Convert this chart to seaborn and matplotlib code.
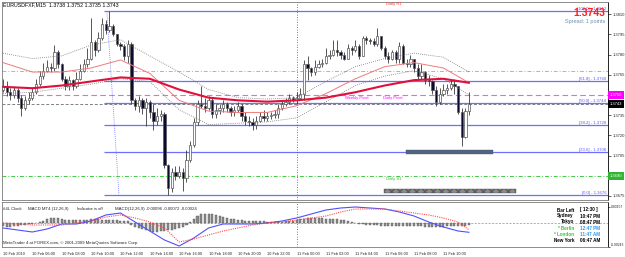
import numpy as np
import seaborn as sns
import matplotlib
matplotlib.use("Agg")
import matplotlib.pyplot as plt
import matplotlib.transforms as mtrans
from matplotlib.patches import Rectangle

# EURUSDFXF M15, 10 Feb 2010 04:00 -> 11 Feb 2010 11:45
opens = [1.3754, 1.3757, 1.3752, 1.3750, 1.3754, 1.3748, 1.3740, 1.3746, 1.3748, 1.3752,
         1.3758, 1.3764, 1.3768, 1.3771, 1.3770, 1.3782, 1.3773, 1.3762, 1.3757, 1.3761,
         1.3757, 1.3762, 1.3768, 1.3773, 1.3777, 1.3789, 1.3783, 1.3792, 1.3803, 1.3798,
         1.3801, 1.3795, 1.3788, 1.3786, 1.3779, 1.3788, 1.3746, 1.3742, 1.3746, 1.3740,
         1.3745, 1.3737, 1.3731, 1.3734, 1.3736, 1.3698, 1.3681, 1.3693, 1.3690, 1.3693,
         1.3688, 1.3702, 1.3713, 1.3730, 1.3743, 1.3742, 1.3740, 1.3746, 1.3736, 1.3739,
         1.3740, 1.3743, 1.3740, 1.3737, 1.3739, 1.3742, 1.3734, 1.3731, 1.3730, 1.3728,
         1.3731, 1.3734, 1.3733, 1.3734, 1.3735, 1.3736, 1.3740, 1.3743, 1.3745, 1.3748,
         1.3746, 1.3748, 1.3751, 1.3773, 1.3770, 1.3767, 1.3771, 1.3773, 1.3774, 1.3779,
         1.3780, 1.3783, 1.3782, 1.3780, 1.3777, 1.3785, 1.3783, 1.3786, 1.3779, 1.3792,
         1.3791, 1.3790, 1.3788, 1.3794, 1.3785, 1.3779, 1.3777, 1.3782, 1.3777, 1.3786,
         1.3774, 1.3773, 1.3777, 1.3770, 1.3764, 1.3767, 1.3761, 1.3760, 1.3754, 1.3745,
         1.3751, 1.3754, 1.3755, 1.3758, 1.3757, 1.3737, 1.3719, 1.3738]
highs = [1.3762, 1.3760, 1.3755, 1.3757, 1.3755, 1.3750, 1.3749, 1.3752, 1.3755, 1.3762,
         1.3768, 1.3774, 1.3776, 1.3774, 1.3787, 1.3783, 1.3774, 1.3764, 1.3764, 1.3762,
         1.3767, 1.3773, 1.3777, 1.3785, 1.3807, 1.3791, 1.3797, 1.3807, 1.3806, 1.3812,
         1.3803, 1.3795, 1.3789, 1.3788, 1.3791, 1.3789, 1.3748, 1.3749, 1.3748, 1.3748,
         1.3746, 1.3743, 1.3740, 1.3739, 1.3737, 1.3699, 1.3696, 1.3697, 1.3697, 1.3696,
         1.3709, 1.3716, 1.3733, 1.3746, 1.3757, 1.3748, 1.3749, 1.3748, 1.3743, 1.3743,
         1.3746, 1.3745, 1.3742, 1.3742, 1.3745, 1.3743, 1.3737, 1.3734, 1.3733, 1.3734,
         1.3737, 1.3739, 1.3737, 1.3737, 1.3739, 1.3743, 1.3746, 1.3748, 1.3751, 1.3749,
         1.3752, 1.3755, 1.3776, 1.3779, 1.3771, 1.3776, 1.3776, 1.3777, 1.3785, 1.3783,
         1.3791, 1.3791, 1.3783, 1.3782, 1.3788, 1.3786, 1.3791, 1.3788, 1.3794, 1.3794,
         1.3792, 1.3792, 1.3800, 1.3794, 1.3786, 1.3782, 1.3783, 1.3783, 1.3789, 1.3788,
         1.3777, 1.3780, 1.3777, 1.3773, 1.3773, 1.3768, 1.3765, 1.3761, 1.3757, 1.3755,
         1.3758, 1.3758, 1.3761, 1.3762, 1.3757, 1.3740, 1.3740, 1.3752]
lows = [1.3752, 1.3749, 1.3746, 1.3748, 1.3745, 1.3734, 1.3739, 1.3743, 1.3746, 1.3751,
        1.3757, 1.3762, 1.3767, 1.3767, 1.3768, 1.3770, 1.3760, 1.3754, 1.3754, 1.3754,
        1.3755, 1.3761, 1.3767, 1.3771, 1.3776, 1.3779, 1.3782, 1.3791, 1.3795, 1.3797,
        1.3794, 1.3786, 1.3783, 1.3776, 1.3774, 1.3743, 1.3739, 1.3737, 1.3736, 1.3727,
        1.3733, 1.3724, 1.3728, 1.3731, 1.3696, 1.3676, 1.3678, 1.3687, 1.3688, 1.3679,
        1.3685, 1.3700, 1.3711, 1.3728, 1.3740, 1.3737, 1.3739, 1.3733, 1.3733, 1.3736,
        1.3737, 1.3737, 1.3734, 1.3734, 1.3737, 1.3731, 1.3728, 1.3727, 1.3724, 1.3725,
        1.3730, 1.3731, 1.3731, 1.3732, 1.3733, 1.3733, 1.3739, 1.3742, 1.3743, 1.3745,
        1.3743, 1.3746, 1.3746, 1.3761, 1.3764, 1.3765, 1.3770, 1.3771, 1.3773, 1.3777,
        1.3779, 1.3779, 1.3777, 1.3776, 1.3777, 1.3780, 1.3782, 1.3777, 1.3779, 1.3788,
        1.3788, 1.3786, 1.3786, 1.3783, 1.3777, 1.3774, 1.3776, 1.3774, 1.3774, 1.3773,
        1.3771, 1.3771, 1.3767, 1.3761, 1.3762, 1.3758, 1.3757, 1.3751, 1.3742, 1.3743,
        1.3749, 1.3751, 1.3754, 1.3751, 1.3736, 1.3712, 1.3718, 1.3735]
closes = [1.3757, 1.3752, 1.3750, 1.3754, 1.3748, 1.3740, 1.3746, 1.3748, 1.3752, 1.3758,
          1.3764, 1.3768, 1.3771, 1.3770, 1.3782, 1.3773, 1.3762, 1.3757, 1.3761, 1.3757,
          1.3762, 1.3768, 1.3773, 1.3777, 1.3789, 1.3783, 1.3792, 1.3803, 1.3798, 1.3801,
          1.3795, 1.3788, 1.3786, 1.3779, 1.3788, 1.3746, 1.3742, 1.3746, 1.3740, 1.3745,
          1.3737, 1.3731, 1.3734, 1.3736, 1.3698, 1.3681, 1.3693, 1.3690, 1.3693, 1.3688,
          1.3702, 1.3713, 1.3730, 1.3743, 1.3742, 1.3740, 1.3746, 1.3736, 1.3739, 1.3740,
          1.3743, 1.3740, 1.3737, 1.3739, 1.3742, 1.3734, 1.3731, 1.3730, 1.3728, 1.3731,
          1.3734, 1.3733, 1.3734, 1.3735, 1.3736, 1.3740, 1.3743, 1.3745, 1.3748, 1.3746,
          1.3748, 1.3751, 1.3773, 1.3770, 1.3767, 1.3771, 1.3773, 1.3774, 1.3779, 1.3780,
          1.3783, 1.3782, 1.3780, 1.3777, 1.3785, 1.3783, 1.3786, 1.3779, 1.3792, 1.3791,
          1.3790, 1.3788, 1.3794, 1.3785, 1.3779, 1.3777, 1.3782, 1.3777, 1.3786, 1.3774,
          1.3773, 1.3777, 1.3770, 1.3764, 1.3767, 1.3761, 1.3760, 1.3754, 1.3745, 1.3751,
          1.3754, 1.3755, 1.3758, 1.3757, 1.3737, 1.3719, 1.3738, 1.3743]

# moving averages / envelopes sampled every 2 hours
ma_bars = [0, 8, 16, 24, 32, 40, 48, 56, 64, 72, 80, 88, 96, 104, 112, 120, 127]
ma_slow = [1.3756, 1.3755, 1.3757, 1.3760, 1.3763, 1.3762, 1.3754, 1.3748, 1.3746,
           1.3745, 1.3746, 1.3748, 1.3752, 1.3757, 1.3761, 1.3762, 1.3759]
ma_mid = [1.3774, 1.3767, 1.3767, 1.3770, 1.3776, 1.3766, 1.3746, 1.3738, 1.3737,
          1.3737, 1.3742, 1.3751, 1.3762, 1.3771, 1.3774, 1.3770, 1.3759]
env_upper = [1.3781, 1.3777, 1.3779, 1.3787, 1.3791, 1.3779, 1.3767, 1.3754, 1.3748,
             1.3747, 1.3748, 1.3760, 1.3771, 1.3777, 1.3781, 1.3778, 1.3767]
env_lower = [1.3751, 1.3752, 1.3755, 1.3758, 1.3762, 1.3760, 1.3739, 1.3728, 1.3729,
             1.3730, 1.3733, 1.3745, 1.3757, 1.3764, 1.3768, 1.3762, 1.3750]

# MACD(12,26,9) lines sampled every hour
macd_bars = [0, 4, 8, 12, 16, 20, 24, 28, 32, 36, 40, 44, 48, 52, 56, 60, 64,
             68, 72, 76, 80, 84, 88, 92, 96, 100, 104, 108, 112, 116, 120, 124, 127]
macd_main = [-0.00053, -0.00073, -0.00093, -0.00063, -0.00013, -0.00013, 0.00017, 0.00077,
             0.00097, 0.00007, -0.00083, -0.00173, -0.00233, -0.00153, -0.00053, -0.00013,
             -0.00013, -0.00013, -0.00003, 0.00017, 0.00047, 0.00087, 0.00127, 0.00147,
             0.00157, 0.00147, 0.00137, 0.00107, 0.00067, 0.00007, -0.00043, -0.00083, -0.00096]
macd_signal = [-0.00003, -0.00013, -0.00023, -0.00023, -0.00023, -0.00003, 0.00017, 0.00057,
               0.00077, 0.00047, 0.00007, -0.00053, -0.00193, -0.00163, -0.00123, -0.00083,
               -0.00053, -0.00023, -0.00003, 0.00007, 0.00027, 0.00047, 0.00067, 0.00107,
               0.00137, 0.00137, 0.00137, 0.00117, 0.00097, 0.00077, 0.00047, 0.00007, -0.00072]
macd_hist = [-35, -38, -40, -36, -30, -25, -20, -15, -10, -5, 5,
             20, 35, 45, 50, 45,
             35, 30, 25, 25, 28, 30, 32, 30,
             35, 38, 35, 32, 30, 30, 28, 25, 22, 20, 15,
             -20, -40, -55, -65, -75, -85, -90, -90, -85, -80, -75, -70, -60, -50, -40,
             -20, 10,
             40, 65, 85, 90, 90, 85, 80, 70, 60, 50, 40,
             35, 30, 25, 20, 20, 18, 15, 15, 15, 12, 12, 10, 10, 12, 15, 18,
             22, 28, 35, 42, 48, 50, 50, 48, 45, 42, 40, 38, 35, 30, 25, 18,
             10, 0, -10, -15, -18, -20, -22, -25, -28, -30, -30, -30, -30, -32, -32, -33, -34, -35, -35,
             -36, -38, -40, -40, -40, -40, -38, -36, -35, -35, -34, -30, -28, -24]
macd_hist = [v * 1e-5 for v in macd_hist]

price_ticks = [1.3810, 1.3795, 1.3780, 1.3765, 1.3750, 1.3735, 1.3720, 1.3705, 1.3690, 1.3675]
macd_ticks = [0.00157, -0.00243]
date_bars = [0, 8, 16, 24, 32, 40, 48, 56, 64, 72, 80, 88, 96, 104, 112, 120]
date_labels = ["10 Feb 2010", "10 Feb 06:00", "10 Feb 08:00", "10 Feb 10:00", "10 Feb 12:00",
               "10 Feb 14:00", "10 Feb 16:00", "10 Feb 18:00", "10 Feb 20:00", "10 Feb 22:00",
               "11 Feb 00:00", "11 Feb 02:00", "11 Feb 04:00", "11 Feb 06:00", "11 Feb 08:00",
               "11 Feb 10:00"]

fib_names = ["100.0", "61.8", "50.0", "38.2", "23.6", "0.0"]
fib_prices = [1.3812, 1.3760, 1.3744, 1.3728, 1.3708, 1.3676]
fib_start_bar = 27.5
fib_anchor_bars = [28.3, 31.6]
fib_anchor_prices = [1.3812, 1.3676]

pivot = 1.3750
daily_s1 = 1.3690
daily_r1 = 1.3820
orange_level = 1.3768
bid = 1.3743
day_split = 80

zone_bars = [(109.8, 133.5), (103.8, 139.8)]
zone_prices = [(1.3706, 1.3709), (1.3677, 1.3680)]

clock_names = ["Bar Left", "Sydney", "Tokyo", "* Berlin", "* London", "New York"]
clock_times = ["[ 12:30 ]", "10:47 PM", "08:47 PM", "12:47 PM", "11:47 AM", "06:47 AM"]
name_colors = ["black", "black", "black", "#33cc33", "#33cc33", "black"]
time_colors = ["black", "black", "black", "#3399ee", "#3399ee", "black"]

sns.set_style("white")
plt.rcParams['font.family'] = ['Liberation Sans', 'DejaVu Sans']

W, H = 625, 257
fig = plt.figure(figsize=(W / 100, H / 100), dpi=100)


def rect(l, t, r, b):
    return [l / W, 1 - b / H, (r - l) / W, (b - t) / H]


def ftext(x, y, s, **kw):
    return fig.text(x / W, 1 - y / H, s, va='center', **kw)


ax = fig.add_axes(rect(2, 2, 608, 200))
axm = fig.add_axes(rect(2, 202, 608, 247))
xlim = (-0.27, 164.85)

# ---- price panel
o, h, l, c = map(np.array, (opens, highs, lows, closes))
bar = np.arange(len(c))
up = c >= o
ax.vlines(bar, l, h, color='#3a3a3a', lw=0.6, zorder=3)
ax.bar(bar, np.maximum(np.abs(c - o), 0.00003), bottom=np.minimum(o, c), width=0.62,
       color=['white' if u else '#0b0b30' for u in up], edgecolor='#555555', lw=0.5, zorder=4)

ax.axhline(orange_level, color='#f2a070', lw=0.7, ls=(0, (4, 2, 1, 2)), zorder=2)
ax.axhline(pivot, color='#ff55ff', lw=0.8, ls=(0, (5, 3)), zorder=2)
ax.axhline(bid, color='#808080', lw=0.7, ls=(0, (3, 2)), zorder=2)
ax.axhline(daily_s1, color='#44cc44', lw=0.7, ls=(0, (4, 2, 1, 2)), zorder=2)
ax.hlines(fib_prices, fib_start_bar, xlim[1], color='#6e6eff', lw=0.9, zorder=2)
ax.plot(fib_anchor_bars, fib_anchor_prices, color='#6e6eff', lw=0.6, ls=(0, (1, 1.5)), zorder=2)
ax.axvline(day_split, color='#505050', lw=0.6, ls=(0, (1, 2)), zorder=2)

for (b0, b1), (p0, p1), fc, hatch in zip(zone_bars, zone_prices, ['#4f6384', '#8a8a8a'], [None, 'xxxx']):
    ax.add_patch(Rectangle((b0, p0), b1 - b0, p1 - p0, facecolor=fc, edgecolor='#5a5a5a',
                           hatch=hatch, lw=0.3, zorder=3))

sns.lineplot(x=ma_bars, y=env_upper, ax=ax, color='#777777', lw=0.6, linestyle=(0, (1, 1.5)), zorder=5)
sns.lineplot(x=ma_bars, y=env_lower, ax=ax, color='#777777', lw=0.6, linestyle=(0, (1, 1.5)), zorder=5)
sns.lineplot(x=ma_bars, y=ma_mid, ax=ax, color='#f07a7a', lw=0.7, zorder=5)
sns.lineplot(x=ma_bars, y=ma_slow, ax=ax, color='#e0103a', lw=1.5, zorder=5)

ax.set_xlim(*xlim)
ax.set_ylim(1.3672, 1.3819)
ax.set_xlabel('')
ax.set_ylabel('')
ax.set_xticks([])
ax.yaxis.tick_right()
ax.set_yticks(price_ticks)
# the boxed levels cover their own tick label
ax.set_yticklabels(['' if p in (pivot, daily_s1) else f'{p:.4f}' for p in price_ticks])
ax.tick_params(axis='y', length=2, width=0.5, labelsize=3.0, pad=1.5)

yblend = mtrans.blended_transform_factory(ax.transAxes, ax.transData)
for name, p in zip(fib_names, fib_prices):
    ax.text(0.997, p, f'[{name}] - {p:.4f}', transform=yblend, ha='right', va='bottom',
            fontsize=3.1, color='#5c5cff', zorder=6)
for p, fc in [(pivot, '#ff00ff'), (bid, 'black'), (daily_s1, '#2fb52f')]:
    ax.text(1.0 + 2 / 606, p, f'{p:.4f}', transform=yblend, ha='left', va='center', fontsize=3.0,
            color='white', clip_on=False, zorder=7,
            bbox=dict(boxstyle='square,pad=0.45', fc=fc, ec='none'))

ax.text(93.2, pivot - 0.0001, 'Weekly Pivot', ha='left', va='top', fontsize=3.0, color='#ff00ff')
ax.text(103.5, pivot - 0.0001, 'Daily Pivot', ha='left', va='top', fontsize=3.0, color='#ff00ff')
ax.text(104.4, daily_s1 - 0.0001, 'Daily S1', ha='left', va='top', fontsize=3.0, color='#33bb33')
ax.text(104.4, daily_r1 - 0.0001, 'Daily R1', ha='left', va='top', fontsize=3.0, color='#ff3030',
        clip_on=False)

# ---- MACD panel
axm.bar(bar, macd_hist, width=0.55, color='#8a8a8a', edgecolor='#5a5a5a', lw=0.3, zorder=2)
axm.axhline(0, color='#909090', lw=0.5, ls=(0, (3, 2)), zorder=1)
axm.axvline(day_split, color='#505050', lw=0.6, ls=(0, (1, 2)), zorder=1)
sns.lineplot(x=macd_bars, y=macd_main, ax=axm, color='#5050ff', lw=0.8, zorder=3)
sns.lineplot(x=macd_bars, y=macd_signal, ax=axm, color='#ff4d4d', lw=0.8, linestyle=(0, (1, 1)), zorder=3)
axm.set_xlim(*xlim)
axm.set_ylim(-0.00243, 0.00207)
axm.set_xlabel('')
axm.set_ylabel('')
axm.yaxis.tick_right()
axm.set_yticks(macd_ticks)
axm.set_yticklabels([f'{v:.5f}' for v in macd_ticks])
axm.set_xticks(date_bars)
axm.set_xticklabels(date_labels)
for lbl in axm.get_xticklabels():
    lbl.set_ha('left')
axm.tick_params(axis='x', length=2, width=0.5, labelsize=2.8, pad=1.5)
axm.tick_params(axis='y', length=1.5, width=0.5, labelsize=2.4, pad=0.8)
for lbl, va in zip(axm.get_yticklabels(), ['center', 'bottom']):
    lbl.set_va(va)

for a in (ax, axm):
    for s in a.spines.values():
        s.set_color('#7a7a7a')
        s.set_linewidth(0.6)
    a.spines['right'].set_color('black')

# ---- overlay texts
ftext(3, 5, 'EURUSDFXF,M15  1.3738 1.3752 1.3735 1.3743', fontsize=3.8, color='black')
ftext(605, 13, '1.3743', fontsize=7.5, fontweight='bold', color='#ff2020', ha='right', zorder=8)
ftext(605, 21, 'Spread: 1 points', fontsize=4.0, color='#7090b0', ha='right')

ftext(3, 209, '#4L Clock', fontsize=3.1)
ftext(28, 209, 'MACD MT4 (12,26,9)', fontsize=3.1)
ftext(77, 209, 'Indicator is off', fontsize=3.1)
ftext(115, 209, 'MACD(12,26,9) -0.00096 -0.00072 -0.00024', fontsize=3.1)
ftext(3, 243, 'MetaTrader 4 at FOREX.com, \u00a9 2001-2009 MetaQuotes Software Corp.', fontsize=3.1)

for k, (nm, tm) in enumerate(zip(clock_names, clock_times)):
    yy = 210 + 6 * k
    ftext(574, yy, nm, fontsize=3.3, fontweight='bold', color=name_colors[k], ha='right')
    ftext(580, yy, tm, fontsize=3.3, fontweight='bold', color=time_colors[k], ha='left')

fig.savefig('out.png', dpi=100)
